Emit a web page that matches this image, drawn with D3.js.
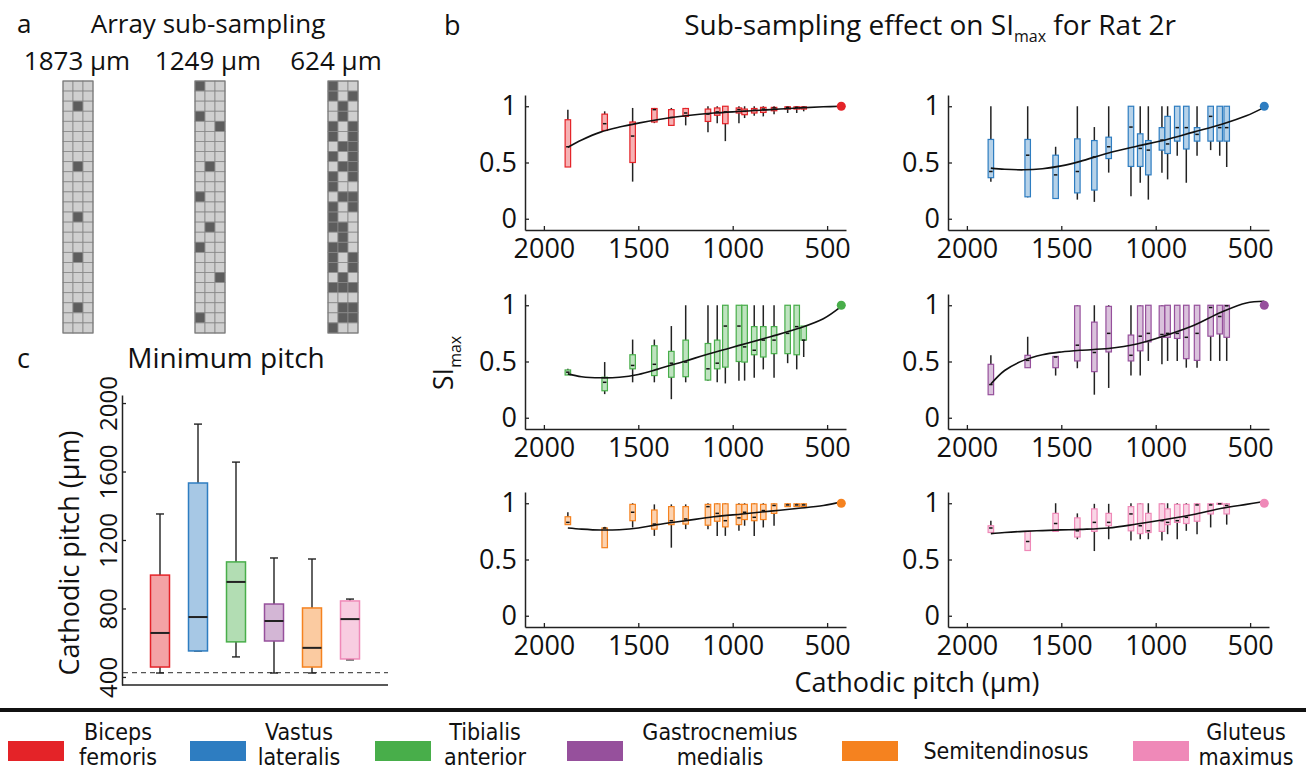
<!DOCTYPE html>
<html>
<head>
<meta charset="utf-8">
<script src="https://cdn.jsdelivr.net/npm/d3@7"></script>
<style>
  body { margin: 0; background: #fff; }
  svg { font-family: "Open Sans", "Noto Sans", sans-serif; fill: #111; }
  .legend text { font-family: "DejaVu Sans Condensed", "DejaVu Sans", sans-serif; font-stretch: condensed; }
</style>
</head>
<body>
<svg id="fig" width="1306" height="771"></svg>
<script>
// ---- data ----
const muscles = ["Biceps femoris", "Vastus lateralis", "Tibialis anterior", "Gastrocnemius medialis", "Semitendinosus", "Gluteus maximus"]
const legendLines = [["Biceps", "femoris"], ["Vastus", "lateralis"], ["Tibialis", "anterior"], ["Gastrocnemius", "medialis"], ["Semitendinosus"], ["Gluteus", "maximus"]]
const colors = ["#e42328", "#2e7dc1", "#48ae4a", "#96509c", "#f5821f", "#ef89b8"]

// panel a: active electrodes per row (25 rows x 3 columns)
const gridLabels = ["1873 µm", "1249 µm", "624 µm"]
const grid1873 = ["000","000","010","000","000","000","000","000","010","000","000","000","000","010","000","000","000","010","000","000","000","000","010","000","000"]
const grid1249 = ["100","000","000","100","001","000","000","000","010","000","000","100","000","000","010","000","100","000","000","001","000","000","000","100","000"]
const grid624 = ["100","101","010","010","101","101","011","101","011","101","100","011","101","100","110","010","110","101","101","010","111","000","011","011","100"]

// panel b: sub-sampled pitches (µm), box stats [min, q1, median, q3, max]
const pitches = [1873, 1678, 1530, 1415, 1325, 1249, 1131, 1082, 1039, 967, 937, 886, 838, 781, 709, 661, 624]
const fullPitch = 425

const bfStats = [[0.46,0.46,0.64,0.88,0.97],[0.785,0.785,0.845,0.93,0.955],[0.33,0.50,0.735,0.86,0.985],[0.85,0.86,0.97,0.98,0.985],[0.83,0.83,0.90,0.97,0.985],[0.83,0.91,0.94,0.98,0.985],[0.77,0.865,0.93,0.975,1.0],[0.85,0.92,0.95,0.985,1.0],[0.69,0.845,0.95,1.0,1.0],[0.85,0.94,0.97,0.985,1.0],[0.895,0.925,0.955,0.975,1.0],[0.915,0.94,0.965,0.98,1.0],[0.91,0.945,0.975,0.99,1.0],[0.93,0.96,0.985,0.99,1.0],[0.94,0.975,0.99,0.995,1.0],[0.94,0.975,0.99,0.995,1.0],[0.955,0.975,0.99,0.995,1.0]]
const vlStats = [[0.33,0.365,0.42,0.705,1.0],[0.19,0.195,0.565,0.705,1.0],[0.18,0.18,0.39,0.565,0.64],[0.17,0.23,0.42,0.71,1.0],[0.15,0.255,0.55,0.695,0.815],[0.41,0.535,0.64,0.725,1.0],[0.20,0.465,0.815,1.0,1.0],[0.32,0.465,0.625,0.755,1.0],[0.17,0.39,0.61,0.695,1.0],[0.41,0.61,0.70,0.81,1.0],[0.35,0.58,0.665,0.91,1.0],[0.56,0.69,0.81,1.0,1.0],[0.32,0.62,0.81,1.0,1.0],[0.56,0.69,0.75,0.81,1.0],[0.61,0.69,0.91,1.0,1.0],[0.56,0.69,0.81,1.0,1.0],[0.46,0.69,0.81,1.0,1.0]]
const taStats = [[0.38,0.38,0.405,0.425,0.435],[0.21,0.24,0.315,0.36,0.495],[0.315,0.435,0.465,0.56,0.695],[0.315,0.375,0.475,0.64,0.695],[0.165,0.36,0.485,0.59,0.815],[0.315,0.365,0.495,0.69,1.0],[0.33,0.335,0.435,0.66,1.0],[0.315,0.435,0.485,0.69,1.0],[0.305,0.45,0.815,1.0,1.0],[0.33,0.50,0.815,1.0,1.0],[0.33,0.495,0.63,1.0,1.0],[0.355,0.56,0.60,0.81,1.0],[0.43,0.54,0.69,0.81,1.0],[0.355,0.57,0.69,0.81,1.0],[0.485,0.57,0.75,1.0,1.0],[0.43,0.56,0.81,1.0,1.0],[0.54,0.69,0.69,0.815,0.815]]
const gmStats = [[0.205,0.205,0.295,0.475,0.555],[0.445,0.445,0.51,0.555,0.72],[0.375,0.445,0.54,0.545,0.545],[0.44,0.505,0.645,0.995,1.0],[0.205,0.41,0.58,0.85,1.0],[0.265,0.585,0.75,0.99,1.0],[0.375,0.505,0.555,0.735,1.0],[0.375,0.595,0.725,0.995,1.0],[0.505,0.675,0.75,1.0,1.0],[0.475,0.715,0.74,0.995,1.0],[0.505,0.715,0.75,1.0,1.0],[0.505,0.705,0.75,1.0,1.0],[0.445,0.525,0.715,1.0,1.0],[0.445,0.51,0.75,1.0,1.0],[0.505,0.725,0.98,1.0,1.0],[0.505,0.745,0.90,1.0,1.0],[0.505,0.715,0.995,1.0,1.0]]
const stStats = [[0.81,0.81,0.83,0.88,0.92],[0.605,0.605,0.78,0.78,0.79],[0.785,0.845,0.92,0.99,1.0],[0.71,0.77,0.815,0.94,0.99],[0.605,0.81,0.845,0.97,0.99],[0.77,0.815,0.86,0.97,0.99],[0.77,0.805,0.97,0.99,1.0],[0.71,0.84,0.91,0.995,1.0],[0.71,0.79,0.845,0.995,1.0],[0.755,0.81,0.87,0.99,1.0],[0.80,0.855,0.92,0.99,1.0],[0.71,0.845,0.875,0.995,1.0],[0.785,0.855,0.935,0.99,1.0],[0.80,0.91,0.98,0.995,1.0],[0.97,0.97,0.985,0.995,1.0],[0.97,0.97,0.985,0.995,1.0],[0.97,0.97,0.985,0.995,1.0]]
const gxStats = [[0.74,0.74,0.78,0.80,0.845],[0.58,0.58,0.66,0.75,0.75],[0.75,0.75,0.82,0.91,1.0],[0.68,0.70,0.755,0.87,0.91],[0.575,0.75,0.83,0.95,0.995],[0.68,0.80,0.83,0.91,0.995],[0.67,0.755,0.905,0.97,1.0],[0.68,0.73,0.80,0.995,1.0],[0.68,0.74,0.755,0.91,1.0],[0.67,0.75,0.845,0.995,1.0],[0.725,0.81,0.83,0.95,1.0],[0.68,0.83,0.845,0.99,1.0],[0.755,0.82,0.875,0.99,1.0],[0.725,0.84,0.985,0.995,1.0],[0.785,0.905,0.985,0.995,1.0],[0.99,0.99,0.995,1.0,1.0],[0.81,0.905,0.98,0.995,1.0]]
const allStats = [bfStats, vlStats, taStats, gmStats, stStats, gxStats]

// fitted trend per muscle, read at these pitches
const fitPitch = [1873, 1800, 1700, 1600, 1500, 1400, 1250, 1100, 950, 800, 650, 520, 425]
const bfFit = [0.635, 0.70, 0.77, 0.815, 0.85, 0.88, 0.915, 0.94, 0.955, 0.97, 0.985, 0.995, 1.0]
const vlFit = [0.45, 0.44, 0.435, 0.445, 0.47, 0.51, 0.585, 0.645, 0.70, 0.77, 0.84, 0.915, 0.99]
const taFit = [0.39, 0.365, 0.355, 0.36, 0.385, 0.43, 0.505, 0.58, 0.65, 0.72, 0.795, 0.88, 0.99]
const gmFit = [0.30, 0.42, 0.51, 0.56, 0.585, 0.60, 0.615, 0.655, 0.73, 0.82, 0.94, 1.02, 1.035]
const stFit = [0.78, 0.77, 0.762, 0.765, 0.78, 0.81, 0.845, 0.88, 0.905, 0.93, 0.955, 0.98, 1.01]
const gxFit = [0.73, 0.74, 0.75, 0.757, 0.763, 0.768, 0.78, 0.815, 0.855, 0.90, 0.955, 0.99, 1.015]
const allFits = [bfFit, vlFit, taFit, gmFit, stFit, gxFit]

const bTicksX = [2000, 1500, 1000, 500]
const bTicksY = [0, 0.5, 1]

// panel c: minimum pitch per muscle [min, q1, median, q3, max] (µm)
const minPitch = [[423, 458, 657, 995, 1352], [552, 552, 750, 1533, 1877], [517, 605, 955, 1072, 1655], [423, 610, 727, 826, 1095], [423, 458, 570, 803, 1089], [500, 505, 738, 844, 855]]
const minPitchTicks = [400, 800, 1200, 1600, 2000]
const fullArrayPitch = 425

// ---- drawing ----
const svg = d3.select("#fig")
const tint = (c, t) => d3.interpolateRgb("#ffffff", c)(t)
const axisColor = "#222"

function styleAxis(g, size) {
    g.attr("font-family", null).attr("font-size", null)
    g.select(".domain").attr("stroke", axisColor).attr("stroke-width", 1.5)
    g.selectAll(".tick line").attr("stroke", axisColor).attr("stroke-width", 1.3)
    g.selectAll("text").attr("font-size", size).attr("fill", "#111")
}

// panel letters and titles
svg.append("text").attr("x", 17).attr("y", 33).attr("font-size", 26).text("a")
svg.append("text").attr("x", 208).attr("y", 33).attr("font-size", 26).attr("text-anchor", "middle").text("Array sub-sampling")
svg.append("text").attr("x", 444).attr("y", 35).attr("font-size", 27).text("b")
svg.append("text").attr("x", 930).attr("y", 35).attr("font-size", 28).attr("text-anchor", "middle")
    .call(t => {
        t.append("tspan").text("Sub-sampling effect on SI")
        t.append("tspan").attr("font-size", 16).attr("dy", 7).text("max")
        t.append("tspan").attr("dy", -7).text(" for Rat 2r")
    })
svg.append("text").attr("x", 17).attr("y", 368).attr("font-size", 27).text("c")
svg.append("text").attr("x", 226).attr("y", 368).attr("font-size", 28).attr("text-anchor", "middle").text("Minimum pitch")

////
//// panel a: electrode grids
////
const grids = [grid1873, grid1249, grid624]
const gridLeft = [63, 195, 328]
const gridLabelX = [77, 208, 336]
const cellW = 10, cellH = 10.08

grids.forEach(function (rows, gi) {
    svg.append("text")
        .attr("x", gridLabelX[gi])
        .attr("y", 70)
        .attr("font-size", 26)
        .attr("text-anchor", "middle")
        .text(gridLabels[gi])

    const g = svg.append("g").attr("transform", "translate(" + gridLeft[gi] + ",81)")
    const cells = []
    rows.forEach((r, ri) => r.split("").forEach((c, ci) => cells.push({ r: ri, c: ci, on: c === "1" })))
    g.selectAll("rect")
        .data(cells)
        .enter().append("rect")
        .attr("x", d => d.c * cellW)
        .attr("y", d => d.r * cellH)
        .attr("width", cellW)
        .attr("height", cellH)
        .attr("fill", d => d.on ? "#5d5d5d" : "#cfcfcf")
        .attr("stroke", "#888")
        .attr("stroke-width", 0.8)
    g.append("rect")
        .attr("width", cellW * 3).attr("height", cellH * rows.length)
        .attr("fill", "none").attr("stroke", "#777").attr("stroke-width", 1)
})

////
//// panel b: SI_max vs cathodic pitch, one small plot per muscle
////
const subW = 321, subH = 135
const colX = [525, 948], rowY = [95, 294, 492]
const boxW = 5.5

muscles.forEach(function (m, i) {
    const color = colors[i]
    const g = svg.append("g")
        .attr("transform", "translate(" + colX[i % 2] + "," + rowY[Math.floor(i / 2)] + ")")

    const x = d3.scaleLinear().domain([2100, 400]).range([0, subW])
    const y = d3.scaleLinear().domain([-0.1, 1.1]).range([subH, 0])

    const ax = g.append("g")
        .attr("transform", "translate(0," + subH + ")")
        .call(d3.axisBottom(x).tickValues(bTicksX).tickSizeInner(-4).tickSizeOuter(0).tickPadding(9).tickFormat(d => d))
    styleAxis(ax, 27)

    const ay = g.append("g")
        .call(d3.axisLeft(y).tickValues(bTicksY).tickSizeInner(-4).tickSizeOuter(0).tickPadding(8).tickFormat(d => d))
    styleAxis(ay, 27)

    const boxes = pitches.map((p, k) => ({ p: p, s: allStats[i][k] }))

    const bx = g.append("g").selectAll("g")
        .data(boxes)
        .enter().append("g")
        .attr("transform", d => "translate(" + x(d.p) + ",0)")

    bx.append("line")
        .attr("y1", d => y(d.s[0]))
        .attr("y2", d => y(d.s[4]))
        .attr("stroke", "#222")
        .attr("stroke-width", 1.5)

    bx.append("rect")
        .attr("x", -boxW / 2)
        .attr("width", boxW)
        .attr("y", d => y(d.s[3]))
        .attr("height", d => Math.max(1, y(d.s[1]) - y(d.s[3])))
        .attr("fill", tint(color, 0.35))
        .attr("stroke", color)
        .attr("stroke-width", 1.2)

    bx.append("line")
        .attr("x1", -boxW / 2 + 1)
        .attr("x2", boxW / 2 - 1)
        .attr("y1", d => y(d.s[2]))
        .attr("y2", d => y(d.s[2]))
        .attr("stroke", "#111")
        .attr("stroke-width", 1.5)

    const fit = fitPitch.map((p, k) => [p, allFits[i][k]])
    g.append("path")
        .datum(fit)
        .attr("fill", "none")
        .attr("stroke", "#111")
        .attr("stroke-width", 1.6)
        .attr("d", d3.line().x(d => x(d[0])).y(d => y(d[1])).curve(d3.curveCatmullRom))

    g.append("circle")
        .attr("cx", x(fullPitch))
        .attr("cy", y(1))
        .attr("r", 4.5)
        .attr("fill", color)
})

// SI_max y label
svg.append("text")
    .attr("transform", "translate(453,363) rotate(-90)")
    .attr("text-anchor", "middle")
    .attr("font-size", 27)
    .call(t => {
        t.append("tspan").text("SI")
        t.append("tspan").attr("font-size", 16).attr("dy", 8).text("max")
    })

svg.append("text")
    .attr("x", 917).attr("y", 692)
    .attr("font-size", 27)
    .attr("text-anchor", "middle")
    .text("Cathodic pitch (µm)")

////
//// panel c: minimum pitch boxplot
////
const cx = d3.scalePoint().domain(muscles).range([122, 388]).padding(1)
const cy = d3.scaleLinear().domain([353, 2047]).range([685, 395])
const cBoxW = 19, capW = 8

const cg = svg.append("g")

const cyAxis = cg.append("g")
    .attr("transform", "translate(122,0)")
    .call(d3.axisLeft(cy).tickValues(minPitchTicks).tickSizeInner(-4).tickSizeOuter(0).tickFormat(d => d))
styleAxis(cyAxis, 24)
cyAxis.selectAll(".tick text")
    .attr("x", null).attr("dy", null)
    .attr("text-anchor", "middle")
    .attr("transform", "translate(-5,0) rotate(-90)")

cg.append("line")
    .attr("x1", 122).attr("x2", 388)
    .attr("y1", cy.range()[0]).attr("y2", cy.range()[0])
    .attr("stroke", axisColor).attr("stroke-width", 1.5)

cg.append("line")
    .attr("x1", 123).attr("x2", 388)
    .attr("y1", cy(fullArrayPitch)).attr("y2", cy(fullArrayPitch))
    .attr("stroke", "#555").attr("stroke-width", 1.2)
    .attr("stroke-dasharray", "5,4")

const cb = cg.selectAll(".cbox")
    .data(minPitch.map((s, k) => ({ m: muscles[k], s: s, c: colors[k] })))
    .enter().append("g")
    .attr("class", "cbox")
    .attr("transform", d => "translate(" + cx(d.m) + ",0)")

cb.append("line")
    .attr("y1", d => cy(d.s[0])).attr("y2", d => cy(d.s[4]))
    .attr("stroke", "#222").attr("stroke-width", 1.4)
cb.append("line")
    .attr("x1", -capW / 2).attr("x2", capW / 2)
    .attr("y1", d => cy(d.s[0])).attr("y2", d => cy(d.s[0]))
    .attr("stroke", "#222").attr("stroke-width", 1.4)
cb.append("line")
    .attr("x1", -capW / 2).attr("x2", capW / 2)
    .attr("y1", d => cy(d.s[4])).attr("y2", d => cy(d.s[4]))
    .attr("stroke", "#222").attr("stroke-width", 1.4)
cb.append("rect")
    .attr("x", -cBoxW / 2).attr("width", cBoxW)
    .attr("y", d => cy(d.s[3]))
    .attr("height", d => cy(d.s[1]) - cy(d.s[3]))
    .attr("fill", d => tint(d.c, 0.42))
    .attr("stroke", d => d.c)
    .attr("stroke-width", 1.5)
cb.append("line")
    .attr("x1", -cBoxW / 2).attr("x2", cBoxW / 2)
    .attr("y1", d => cy(d.s[2])).attr("y2", d => cy(d.s[2]))
    .attr("stroke", "#222").attr("stroke-width", 2)

svg.append("text")
    .attr("transform", "translate(79,553) rotate(-90)")
    .attr("text-anchor", "middle")
    .attr("font-size", 27)
    .text("Cathodic pitch (µm)")

////
//// legend
////
svg.append("line")
    .attr("x1", 0).attr("x2", 1306)
    .attr("y1", 710).attr("y2", 710)
    .attr("stroke", "#111").attr("stroke-width", 4)

const swatchX = [8, 190, 375, 567, 842, 1133]
const labelX = [118, 299, 485, 720, 1006, 1246]

const legend = svg.append("g").attr("class", "legend")
    .selectAll("g")
    .data(muscles)
    .enter().append("g")

legend.append("rect")
    .attr("x", (d, k) => swatchX[k])
    .attr("y", 741)
    .attr("width", 56)
    .attr("height", 20)
    .attr("fill", (d, k) => colors[k])

legend.append("text")
    .attr("x", (d, k) => labelX[k])
    .attr("y", (d, k) => legendLines[k].length > 1 ? 740 : 759)
    .attr("font-size", 23)
    .attr("text-anchor", "middle")
    .selectAll("tspan")
    .data((d, k) => legendLines[k])
    .enter().append("tspan")
    .attr("x", function () { return this.parentNode.getAttribute("x") })
    .attr("dy", (d, j) => j === 0 ? 0 : 25)
    .text(d => d)
</script>
</body>
</html>
